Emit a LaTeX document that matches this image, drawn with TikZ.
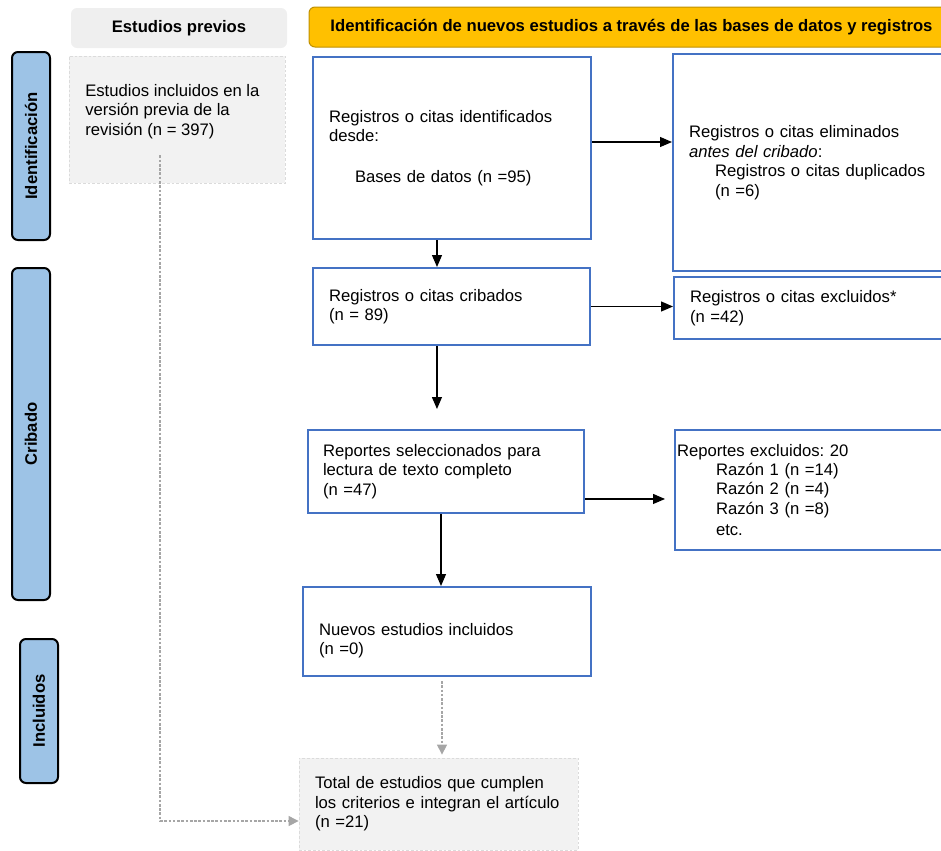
\documentclass[tikz,border=0pt]{standalone}
\usepackage{fontspec}
\setmainfont{Liberation Sans}
\usetikzlibrary{arrows.meta}
\definecolor{boxblue}{HTML}{4472C4}
\definecolor{barblue}{HTML}{9DC3E6}
\definecolor{hdryellow}{HTML}{FFC000}
\definecolor{hdredge}{HTML}{BF9000}
\definecolor{boxgray}{HTML}{F2F2F2}
\definecolor{hdrgray}{HTML}{EFEFEF}
\definecolor{linegray}{HTML}{A6A6A6}

\begin{document}
\begin{tikzpicture}[x=0.75pt, y=-0.75pt,
    every node/.style={font=\fontsize{12.5}{14.6}\selectfont\frenchspacing},
    flowbox/.style={draw=boxblue, line width=1.5pt, align=left, inner xsep=12pt, inner ysep=0pt},
    grayfbox/.style={fill=boxgray, draw=linegray!40, dash pattern=on 2pt off 1.5pt, line width=0.6pt, align=left, inner xsep=12pt, inner ysep=0pt},
    stagebar/.style={draw=black, line width=1.5pt, fill=barblue, rounded corners=4.5pt, minimum height=28.5pt, rotate=90, font=\fontsize{12.5}{14}\selectfont\bfseries},
    header/.style={rounded corners=4.5pt, minimum height=30pt, font=\fontsize{12.5}{14}\selectfont\bfseries},
    arrow/.style={-{Triangle[length=9pt,width=7.5pt]}, line width=0.9pt},
    grayarrow/.style={-{Triangle[length=7.5pt,width=7.5pt]}, draw=linegray, line width=0.8pt, dash pattern=on 2pt off 1.2pt}
  ]
    \useasboundingbox (0,0) rectangle (941,850);

    \node (hdrprev) [header, fill=hdrgray, minimum width=162pt] at (179,28) {Estudios previos};
    \node (hdrnew) [header, fill=hdryellow, draw=hdredge, line width=0.75pt, minimum width=483.75pt] at (631.5,27) {Identificación de nuevos estudios a través de las bases de datos y registros};

    \node (barid) [stagebar, minimum width=141pt] at (31,146) {Identificación};
    \node (barcrib) [stagebar, minimum width=249pt] at (31,434) {Cribado};
    \node (barinc) [stagebar, minimum width=108pt] at (39,711) {Incluidos};

    \node (prev) [grayfbox, minimum width=162pt, minimum height=95.25pt] at (177,119.5) {};
    \node (prevtext) [anchor=north west, align=left, inner sep=0pt] at (85,84) {Estudios incluidos en la\\ versión previa de la\\ revisión (n = 397)};

    \node (ident) [flowbox, text width=184.5pt, minimum height=136.5pt] at (452,148) {Registros o citas identificados\\ desde:\\[16pt] \hspace*{19.5pt}Bases de datos (n =95)};
    \node (elim) [flowbox, text width=191.25pt, minimum height=162.75pt] at (816.5,162.5) {Registros o citas eliminados\\ \textit{antes del cribado}:\\ \hspace*{19.5pt}Registros o citas duplicados\\ \hspace*{19.5pt}(n =6)};
    \node (screened) [flowbox, text width=183.75pt, minimum height=57.75pt] at (451.5,306.5) {Registros o citas cribados\\ (n = 89)};
    \node (excl) [flowbox, text width=190.5pt, minimum height=46.5pt] at (817,308) {Registros o citas excluidos*\\ (n =42)};
    \node (sought) [flowbox, inner xsep=11.25pt, text width=184.5pt, minimum height=62.25pt] at (446,471.5) {Reportes seleccionados para\\ lectura de texto completo\\ (n =47)};
    \node (rexcl) [flowbox, inner xsep=1.5pt, text width=210.75pt, minimum height=90pt] at (817.5,490) {Reportes excluidos: 20\\ \hspace*{29.25pt}Razón 1 (n =14)\\ \hspace*{29.25pt}Razón 2 (n =4)\\ \hspace*{29.25pt}Razón 3 (n =8)\\[1.5pt] \hspace*{29.25pt}etc.};
    \node (newinc) [flowbox, text width=192pt, minimum height=66.75pt] at (447,631.5) {\rule{0pt}{23pt}Nuevos estudios incluidos\\ (n =0)};
    \node (total) [grayfbox, text width=185.25pt, minimum height=69pt] at (438.5,804) {Total de estudios que cumplen\\ los criterios e integran el artículo\\ (n =21)};

    \coordinate (identout) at ([yshift=4.5pt]ident.east);
    \coordinate (identdown) at ([xshift=-11.25pt]ident.south);
    \coordinate (screeneddown) at ([xshift=-10.9pt]screened.south);
    \coordinate (soughtout) at ([yshift=-20.6pt]sought.east);
    \coordinate (soughtdown) at ([xshift=-3.75pt]sought.south);
    \coordinate (newdown) at ([xshift=-3.75pt]newinc.south);
    \coordinate (prevdown) at ([xshift=-12.75pt,yshift=21pt]prev.south);
    \coordinate (totalin) at ([yshift=-12.75pt]total.west);

    \draw[arrow] (identout) -- (identout -| elim.west);
    \draw[arrow] (identdown) -- (identdown |- screened.north);
    \draw[arrow] (screened.east) -- (screened.east -| excl.west);
    \draw[arrow, shorten >=15pt] (screeneddown) -- (screeneddown |- sought.north);
    \draw[arrow, shorten >=6.75pt] (soughtout) -- (soughtout -| rexcl.west);
    \draw[arrow] (soughtdown) -- (soughtdown |- newinc.north);
    \draw[grayarrow, shorten <=3pt, shorten >=2.25pt] (newdown) -- (newdown |- total.north);
    \draw[grayarrow] (prevdown) |- (totalin);
\end{tikzpicture}
\end{document}
